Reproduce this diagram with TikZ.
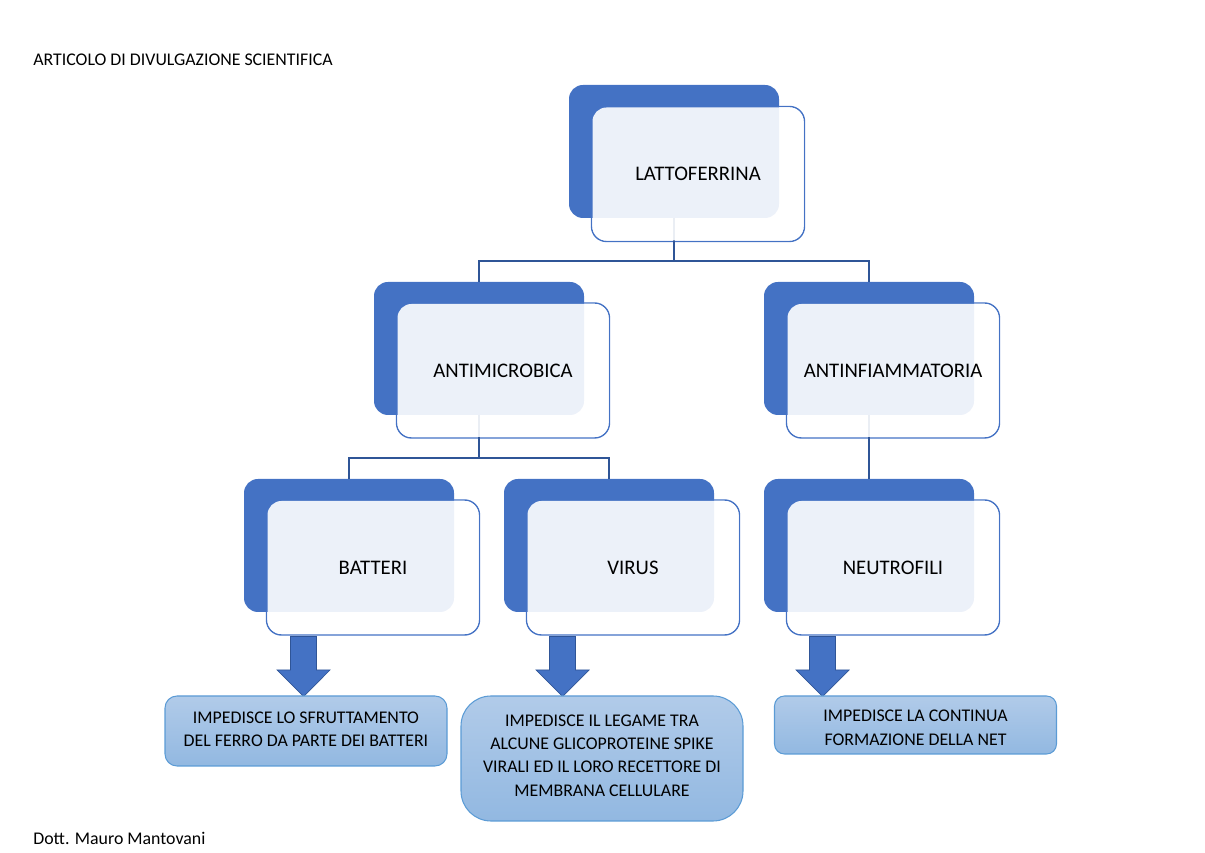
\documentclass[tikz,border=0pt]{standalone}
\usepackage{fontspec}
\setmainfont{Carlito}
\usetikzlibrary{shapes.arrows}

\definecolor{boxblue}{HTML}{4472C4}
\definecolor{linkblue}{HTML}{2F5597}

\tikzset{
    frontline/.style={draw=boxblue, line width=0.8pt, rounded corners=0.3cm, minimum width=4.26cm, minimum height=2.7cm, outer sep=0pt},
    backbox/.style={fill=boxblue, rounded corners=0.28cm, minimum width=4.2cm, minimum height=2.66cm, outer sep=0pt},
    frontbox/.style={fill=white, fill opacity=0.9, text opacity=1, rounded corners=0.28cm, minimum width=4.22cm, minimum height=2.66cm, font=\fontsize{11.8}{14}\selectfont},
    link/.style={draw=linkblue, line width=1.1pt},
    blockarrow/.style={single arrow, shape border rotate=270, fill=boxblue, draw=linkblue, line width=0.4pt, anchor=tip, inner sep=0.25cm, minimum height=1.2cm, minimum width=1.06cm, single arrow head extend=0.27cm},
    leaf/.style={top color=leaftop, bottom color=leafbottom, draw=leafline, line width=0.6pt, minimum width=5.64cm, align=center, font=\fontsize{10.15}{13.3}\selectfont},
    note/.style={anchor=west, inner sep=0pt, font=\fontsize{10.15}{12}\selectfont},
}
\definecolor{leaftop}{HTML}{B1CBE9}
\definecolor{leafbottom}{HTML}{92B8E1}
\definecolor{leafline}{HTML}{5B9BD5}

\begin{document}
\begin{tikzpicture}
    \useasboundingbox (0, 0) rectangle (24.1, 17.06);

    \node[note] (title) at (0.66, 15.87) {ARTICOLO DI DIVULGAZIONE SCIENTIFICA};
    \node[note] (author) at (0.66, 0.29) {Dott. Mauro Mantovani};

    % outlines stay under the back boxes
    \node[frontline] (lattoline) at (13.96, 13.58) {};
    \node[frontline] (antimline) at (10.06, 9.65) {};
    \node[frontline] (antinfline) at (17.86, 9.65) {};
    \node[frontline] (batline) at (7.46, 5.71) {};
    \node[frontline] (virline) at (12.66, 5.71) {};
    \node[frontline] (neutroline) at (17.86, 5.71) {};

    \node[backbox] (latto) at (13.48, 14.03) {};
    \node[backbox] (antim) at (9.58, 10.09) {};
    \node[backbox] (antinf) at (17.38, 10.09) {};
    \node[backbox] (bat) at (6.98, 6.15) {};
    \node[backbox] (vir) at (12.18, 6.15) {};
    \node[backbox] (neutro) at (17.38, 6.15) {};

    \draw[link] (latto.south) -- ++(0, -0.86) -| (antim.north);
    \draw[link] (latto.south) -- ++(0, -0.86) -| (antinf.north);
    \draw[link] (antim.south) -- ++(0, -0.86) -| (bat.north);
    \draw[link] (antim.south) -- ++(0, -0.86) -| (vir.north);
    \draw[link] (antinf.south) -- (neutro.north);

    \node[frontbox] (lattotext) at (13.96, 13.58) {LATTOFERRINA};
    \node[frontbox] (antimtext) at (10.06, 9.65) {ANTIMICROBICA};
    \node[frontbox] (antinftext) at (17.86, 9.65) {ANTINFIAMMATORIA};
    \node[frontbox] (battext) at (7.46, 5.71) {BATTERI};
    \node[frontbox] (virtext) at (12.66, 5.71) {VIRUS};
    \node[frontbox] (neutrotext) at (17.86, 5.71) {NEUTROFILI};

    \node[blockarrow] (batarrow) at (6.07, 3.12) {};
    \node[blockarrow] (virarrow) at (11.25, 3.12) {};
    \node[blockarrow] (neutroarrow) at (16.45, 3.12) {};

    % the struts only lift or drop the text a little
    \node[leaf, rounded corners=0.24cm, minimum height=1.4cm] (batleaf) at (6.12, 2.44) {IMPEDISCE LO SFRUTTAMENTO\\DEL FERRO DA PARTE DEI BATTERI\rule[-2.3pt]{0pt}{2.3pt}};
    \node[leaf, rounded corners=0.6cm, minimum height=2.5cm] (virleaf) at (12.04, 1.89) {IMPEDISCE IL LEGAME TRA\\ALCUNE GLICOPROTEINE SPIKE\\VIRALI ED IL LORO RECETTORE DI\\MEMBRANA CELLULARE\rule[-3.4pt]{0pt}{3.4pt}};
    \node[leaf, rounded corners=0.2cm, minimum height=1.16cm] (neutroleaf) at (18.31, 2.56) {\rule{0pt}{9.9pt}IMPEDISCE LA CONTINUA\\FORMAZIONE DELLA NET};
\end{tikzpicture}
\end{document}
